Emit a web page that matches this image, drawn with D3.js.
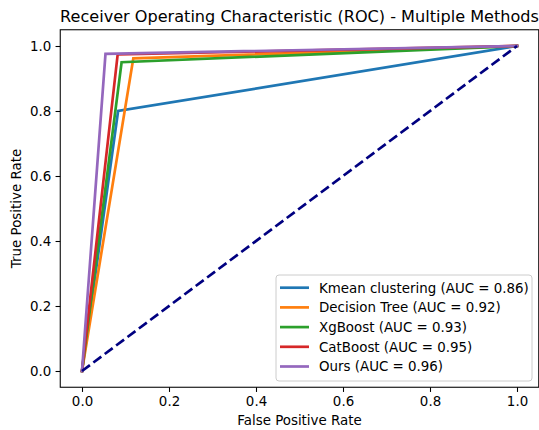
<!doctype html>
<html>
<head>
<script src="https://d3js.org/d3.v7.min.js"></script>
<style>
  body { margin: 0; background: #fff; }
  svg { display: block; font-family: "DejaVu Sans", sans-serif; }
</style>
</head>
<body>
<svg></svg>
<script>
// ROC data: each method has one knee point
const methods = ["Kmean clustering", "Decision Tree", "XgBoost", "CatBoost", "Ours"];
const aucs = [0.86, 0.92, 0.93, 0.95, 0.96];
const fprs = [[0, 0.083, 1], [0, 0.118, 1], [0, 0.091, 1], [0, 0.082, 1], [0, 0.054, 1]];
const tprs = [[0, 0.80, 1], [0, 0.962, 1], [0, 0.95, 1], [0, 0.974, 1], [0, 0.976, 1]];
const colors = ["#1f77b4", "#ff7f0e", "#2ca02c", "#d62728", "#9467bd"];
const diagX = [0, 1];
const diagY = [0, 1];
const tickVals = [0, 0.2, 0.4, 0.6, 0.8, 1.0];

const W = 539, H = 430;
const m = {left: 60.25, right: 538.75, top: 29.75, bottom: 387.25};
const fs = 13.4;

const svg = d3.select("svg").attr("width", W).attr("height", H);

const x = d3.scaleLinear().domain([-0.05, 1.05]).range([m.left, m.right]);
const y = d3.scaleLinear().domain([-0.05, 1.05]).range([m.bottom, m.top]);

const line = d3.line().x(d => x(d[0])).y(d => y(d[1]));

const plot = svg.append("g");

methods.forEach((name, i) => {
	const pts = fprs[i].map((f, j) => [f, tprs[i][j]]);
	plot.append("path")
		.attr("d", line(pts))
		.attr("fill", "none")
		.attr("stroke", colors[i])
		.attr("stroke-width", 2.7)
		.attr("stroke-linejoin", "miter")
		.attr("stroke-linecap", "square");
});

plot.append("path")
	.attr("d", line(diagX.map((v, j) => [v, diagY[j]])))
	.attr("fill", "none")
	.attr("stroke", "navy")
	.attr("stroke-width", 2.7)
	.attr("stroke-dasharray", "9.9,4.3");

// axes
const xAxis = d3.axisBottom(x).tickValues(tickVals).tickFormat(d3.format(".1f"))
	.tickSize(4.7).tickPadding(4.2);
const yAxis = d3.axisLeft(y).tickValues(tickVals).tickFormat(d3.format(".1f"))
	.tickSize(4.7).tickPadding(4.2);

const gx = svg.append("g").attr("transform", `translate(0,${m.bottom})`).call(xAxis);
const gy = svg.append("g").attr("transform", `translate(${m.left},0)`).call(yAxis);
[gx, gy].forEach(g => {
	g.select(".domain").remove();
	g.selectAll("text").attr("font-size", fs).attr("fill", "#000").attr("font-family", "DejaVu Sans");
	g.selectAll("line").attr("stroke", "#000").attr("stroke-width", 1.07);
});

// frame
svg.append("rect")
	.attr("x", m.left).attr("y", m.top)
	.attr("width", m.right - m.left).attr("height", m.bottom - m.top)
	.attr("fill", "none").attr("stroke", "#000").attr("stroke-width", 1.07);

// titles
const cx = (m.left + m.right) / 2;
svg.append("text").attr("x", cx).attr("y", 22)
	.attr("text-anchor", "middle").attr("font-size", 16.1)
	.text("Receiver Operating Characteristic (ROC) - Multiple Methods");
svg.append("text").attr("x", cx).attr("y", 425)
	.attr("text-anchor", "middle").attr("font-size", fs)
	.text("False Positive Rate");
svg.append("text")
	.attr("transform", `translate(21,${(m.top + m.bottom) / 2}) rotate(-90)`)
	.attr("text-anchor", "middle").attr("font-size", fs)
	.text("True Positive Rate");

// legend
const lg = svg.append("g");
const lgL = 276, lgT = 275, lgR = 532, lgB = 381;
lg.append("rect")
	.attr("x", lgL).attr("y", lgT).attr("width", lgR - lgL).attr("height", lgB - lgT)
	.attr("rx", 3).attr("fill", "#fff").attr("fill-opacity", 0.8)
	.attr("stroke", "#cccccc").attr("stroke-width", 1);
methods.forEach((name, i) => {
	const yy = 287.7 + i * 19.7;
	lg.append("line")
		.attr("x1", 280).attr("x2", 309).attr("y1", yy).attr("y2", yy)
		.attr("stroke", colors[i]).attr("stroke-width", 2.7);
	lg.append("text")
		.attr("x", 319).attr("y", yy).attr("dy", "0.36em")
		.attr("font-size", fs)
		.text(`${name} (AUC = ${aucs[i].toFixed(2)})`);
});
</script>
</body>
</html>
